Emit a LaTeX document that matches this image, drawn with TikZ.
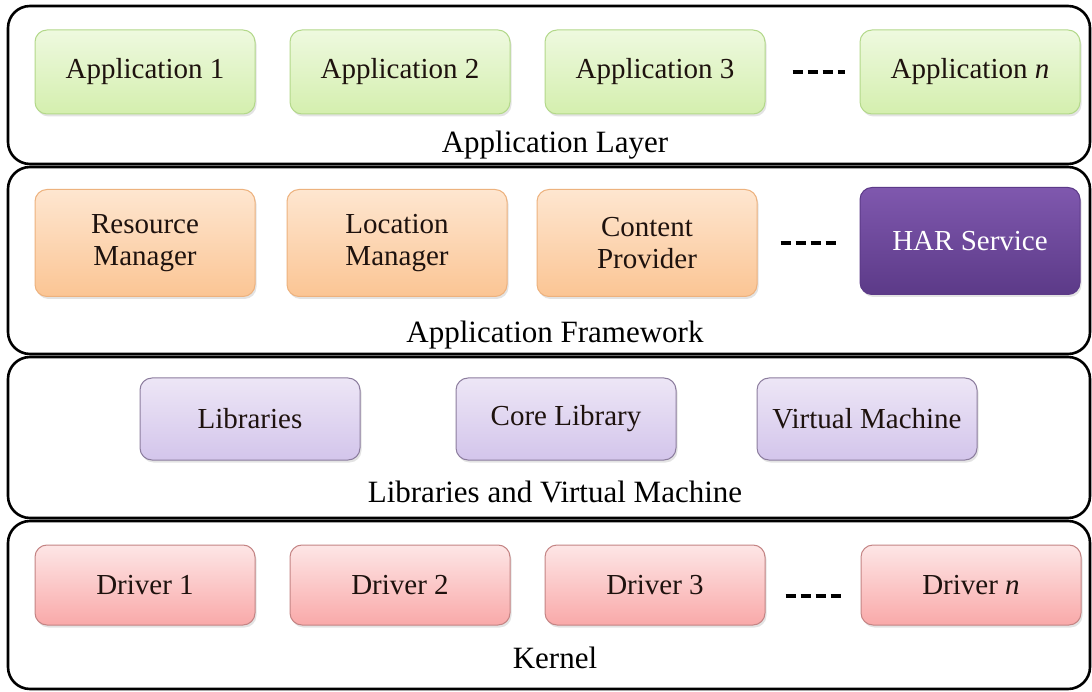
\documentclass[tikz,border=0pt]{standalone}
\usepackage{fontspec}
\setmainfont{Liberation Serif}
\usetikzlibrary{shadows}

\definecolor{appTop}{HTML}{EEF9DF}
\definecolor{appBot}{HTML}{D4EFAE}
\definecolor{appLine}{HTML}{B3D88A}
\definecolor{fwTop}{HTML}{FEE6D0}
\definecolor{fwBot}{HTML}{FBC594}
\definecolor{fwLine}{HTML}{EDB27E}
\definecolor{harTop}{HTML}{7F58AE}
\definecolor{harBot}{HTML}{5C3A88}
\definecolor{libTop}{HTML}{EDE6F6}
\definecolor{libBot}{HTML}{D3C5EB}
\definecolor{libLine}{HTML}{8C7D9E}
\definecolor{drvTop}{HTML}{FDE6E6}
\definecolor{drvBot}{HTML}{F9A9A9}
\definecolor{drvLine}{HTML}{C48484}
\definecolor{txt}{HTML}{1E120E}

\begin{document}
\begin{tikzpicture}[x=1pt,y=-1pt,font=\fontsize{29}{32}\selectfont,
  layer/.style={draw=black,line width=2.6pt,rounded corners=22pt},
  lbl/.style={font=\fontsize{31}{35}\selectfont,text=black},
  box/.style={rounded corners=12pt,align=center,text=txt,minimum width=220pt,minimum height=84pt,line width=1pt,
    drop shadow={opacity=.22,shadow xshift=1.5pt,shadow yshift=-2.5pt}},
  appbox/.style={box,draw=appLine,top color=appTop,bottom color=appBot},
  fwbox/.style={box,draw=fwLine,top color=fwTop,bottom color=fwBot,minimum height=107pt},
  harbox/.style={box,draw=harBot,top color=harTop,bottom color=harBot,text=white,minimum height=107pt},
  libbox/.style={box,draw=libLine,top color=libTop,bottom color=libBot,minimum height=82pt},
  drvbox/.style={box,draw=drvLine,top color=drvTop,bottom color=drvBot,minimum height=80pt},
  dots/.style={line width=4.5pt,dash pattern=on 10pt off 5pt}]
\useasboundingbox (0,0) rectangle (1092,692);
\fill[white] (0,0) rectangle (1092,692);
% layers
\draw[layer] (8,6) rectangle (1090,164);
\draw[layer] (8,167) rectangle (1090,354);
\draw[layer] (8,357) rectangle (1090,518);
\draw[layer] (8,521) rectangle (1090,689);
\node[lbl] (applayer) at (555,145) {Application Layer};
\node[lbl] (framework) at (555,335) {Application Framework};
\node[lbl] (libvm) at (555,492) {Libraries and Virtual Machine};
\node[lbl] (kernel) at (555,658) {Kernel};
% application layer
\node[appbox] (app1) at (145,72) {Application 1};
\node[appbox] (app2) at (400,72) {Application 2};
\node[appbox] (app3) at (655,72) {Application 3};
\node[appbox] (appn) at (970,72) {Application \textit{n}};
\draw[dots,shorten <=27pt,shorten >=15pt] (app3) -- (appn);
% framework
\node[fwbox] (resmgr) at (145,243) {Resource\\Manager};
\node[fwbox] (locmgr) at (397,243) {Location\\Manager};
\node[fwbox] (content) at (647,243) {Content\\Provider};
\node[harbox] (har) at (970,241) {HAR Service};
\draw[dots,shorten <=23pt,shorten >=20pt] (content.east) -- (content.east -| har.west);
% libraries
\node[libbox] (libs) at (250,419) {Libraries};
\node[libbox] (core) at (566,419) {Core Library};
\node[libbox] (vm) at (867,419) {Virtual Machine};
% kernel
\node[drvbox] (drv1) at (145,585) {Driver 1};
\node[drvbox] (drv2) at (400,585) {Driver 2};
\node[drvbox] (drv3) at (655,585) {Driver 3};
\node[drvbox] (drvn) at (971,585) {Driver \textit{n}};
\draw[dots,shorten <=20pt,shorten >=17pt] ([yshift=-11pt]drv3.east) -- ([yshift=-11pt]drv3.east -| drvn.west);
\end{tikzpicture}
\end{document}
